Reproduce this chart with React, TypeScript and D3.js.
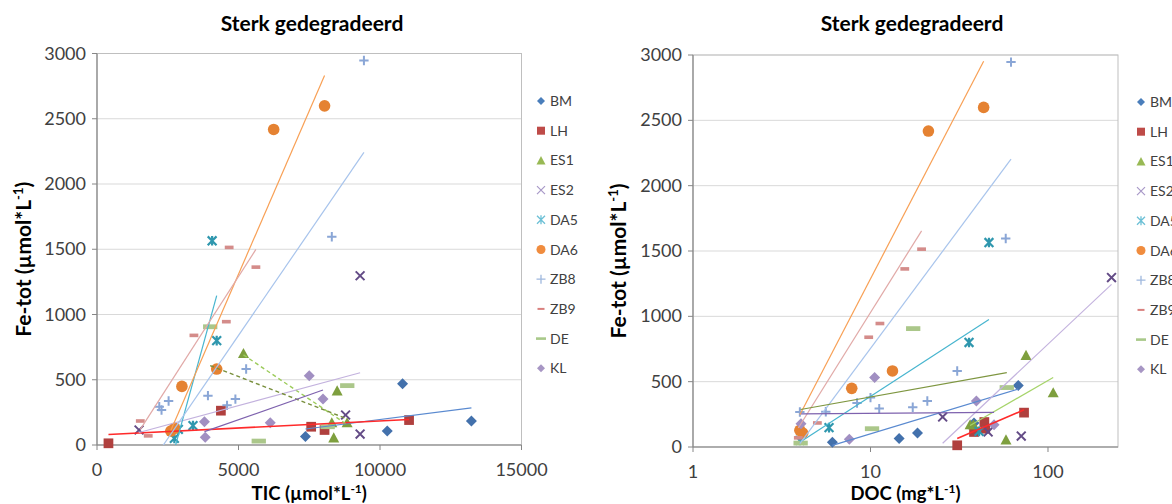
import React from "react";
import * as d3 from "d3";

// ---------- DATA ----------
const SERIES = ["BM", "LH", "ES1", "ES2", "DA5", "DA6", "ZB8", "ZB9", "DE", "KL"];

const BM_FE = [36, 66, 107, 470, 184];
const BM_TIC = [null, 7365, 10257, 10797, 13230];
const BM_DOC = [6.1, 14.5, 18.4, 68, 38.3];

const LH_FE = [13, 263, 140, 115, 191];
const LH_TIC = [405, 4378, 7568, 8041, 11027];
const LH_DOC = [30.8, 73.3, 44.3, 38.3, 43.8];

const ES1_FE = [702, 416, 171, 55, 171];
const ES1_TIC = [5176, 8486, 8297, 8365, 8838];
const ES1_DOC = [75.2, 107, 36.4, 58, 38];

const ES2_FE = [115, 230, 84, 1297];
const ES2_TIC = [1486, 8784, 9297, 9297];
const ES2_DOC = [46, 25.5, 70.7, 228];

const DA5_FE = [1565, 800, 148, 51, 120];
const DA5_TIC = [4068, 4230, 3392, 2733, 2874];
const DA5_DOC = [46.5, 35.9, 5.84, 4.0, 40.9];

const DA6_FE = [2418, 2599, 582, 449, 128, 107];
const DA6_TIC = [6243, 8041, 4230, 3000, 2743, 2608];
const DA6_DOC = [21.2, 43.4, 13.3, 7.84, 4.0, 4.15];

const ZB8_FE = [2946, 1596, 582, 378, 352, 304, 337, 294, 268, 270];
const ZB8_TIC = [9432, 8297, 5270, 3920, 4890, 4595, 2530, 2200, 2280, null];
const ZB8_DOC = [61.9, 57.8, 30.8, 10.0, 20.9, 17.3, 8.4, 11.2, 4.0, 5.6];

const ZB9_FE = [1514, 1363, 945, 840, 184, 70];
const ZB9_TIC = [4670, 5615, 4570, 3425, 1530, 1810];
const ZB9_DOC = [19.4, 15.6, 11.3, 9.77, 5.02, 3.92];

const DE_FE = [906, 30, 455, 140];
const DE_TIC = [4000, 5716, 8843, 8150];
const DE_DOC = [17.4, 4.04, 58.6, 10.2];

const KL_FE = [178, 59, 531, 352, 171];
const KL_TIC = [3797, 3824, 7500, 7986, 6122];
const KL_DOC = [4.06, 7.6, 10.55, 39.5, 49.7];

const FE_TICKS = [0, 500, 1000, 1500, 2000, 2500, 3000];
const TIC_TICKS = [0, 5000, 10000, 15000];
const DOC_TICKS = [1, 10, 100];

const TITLE = "Sterk gedegradeerd";

const FE_BY: Record<string, number[]> = {
  BM: BM_FE, LH: LH_FE, ES1: ES1_FE, ES2: ES2_FE, DA5: DA5_FE,
  DA6: DA6_FE, ZB8: ZB8_FE, ZB9: ZB9_FE, DE: DE_FE, KL: KL_FE,
};
const TIC_BY: Record<string, (number | null)[]> = {
  BM: BM_TIC, LH: LH_TIC, ES1: ES1_TIC, ES2: ES2_TIC, DA5: DA5_TIC,
  DA6: DA6_TIC, ZB8: ZB8_TIC, ZB9: ZB9_TIC, DE: DE_TIC, KL: KL_TIC,
};
const DOC_BY: Record<string, (number | null)[]> = {
  BM: BM_DOC, LH: LH_DOC, ES1: ES1_DOC, ES2: ES2_DOC, DA5: DA5_DOC,
  DA6: DA6_DOC, ZB8: ZB8_DOC, ZB9: ZB9_DOC, DE: DE_DOC, KL: KL_DOC,
};

// ---------- STYLE ----------
const MARKER_COLOR: Record<string, string> = {
  BM: "#4371AC", LH: "#B0403E", ES1: "#7E9F3E", ES2: "#634B86", DA5: "#2F97AE",
  DA6: "#E58232", ZB8: "#8AA6D6", ZB9: "#D48C8A", DE: "#ABC78A", KL: "#A18FC2",
};
const LEGEND_COLOR: Record<string, string> = {
  BM: "#4A7EBB", LH: "#BE4B48", ES1: "#98B954", ES2: "#A899C8", DA5: "#6CC0D6",
  DA6: "#F08C3E", ZB8: "#9FB8DE", ZB9: "#D9807E", DE: "#A9C98A", KL: "#A796C4",
};
type TL = { color: string; dash?: string; width?: number };
const TREND_LEFT: Record<string, TL> = {
  BM: { color: "#5A8AD0" }, LH: { color: "#FF2A2A", width: 1.6 },
  ES1: { color: "#9CCB5A", dash: "4,3", width: 1.4 }, ES2: { color: "#C3B2DE" },
  DA5: { color: "#47B5CF" }, DA6: { color: "#F8A055" }, ZB8: { color: "#A8C4EC" },
  ZB9: { color: "#E1A9A7" }, DE: { color: "#788F3C", dash: "4,3", width: 1.4 },
  KL: { color: "#7E62AE" },
};
const TREND_RIGHT: Record<string, TL> = {
  BM: { color: "#5A8AD0" }, LH: { color: "#FF2A2A", width: 1.6 },
  ES1: { color: "#A6D46A" }, ES2: { color: "#C3B2DE" },
  DA5: { color: "#47B5CF" }, DA6: { color: "#F8A055" }, ZB8: { color: "#A8C4EC" },
  ZB9: { color: "#E1A9A7" }, DE: { color: "#7E9640" },
  KL: { color: "#7E62AE" },
};

const FONT = "Lato, 'Open Sans', sans-serif";
const TXT = "#404040";

function markerPath(name: string, s: number): React.ReactNode {
  const c = MARKER_COLOR[name];
  switch (name) {
    case "BM":
    case "KL":
      return <path d={`M0,${-s}L${s},0L0,${s}L${-s},0Z`} fill={c} />;
    case "LH":
      return <rect x={-s * 0.9} y={-s * 0.9} width={s * 1.8} height={s * 1.8} fill={c} />;
    case "ES1":
      return <path d={`M0,${-s}L${s},${s * 0.85}L${-s},${s * 0.85}Z`} fill={c} />;
    case "ES2": {
      const a = s * 0.8;
      return <path d={`M${-a},${-a}L${a},${a}M${-a},${a}L${a},${-a}`} stroke={c} strokeWidth={2} fill="none" />;
    }
    case "DA5": {
      const a = s * 0.8;
      return (
        <path
          d={`M${-a},${-a}L${a},${a}M${-a},${a}L${a},${-a}M0,${-a * 1.1}L0,${a * 1.1}`}
          stroke={c} strokeWidth={2.2} fill="none"
        />
      );
    }
    case "DA6":
      return <circle r={s} fill={c} />;
    case "ZB8": {
      const a = s * 0.85;
      return <path d={`M${-a},0L${a},0M0,${-a}L0,${a}`} stroke={c} strokeWidth={2} fill="none" />;
    }
    case "ZB9":
      return <rect x={-s * 0.8} y={-1.8} width={s * 1.6} height={3.6} fill={c} />;
    case "DE":
      return <rect x={-s * 1.3} y={-2.4} width={s * 2.6} height={4.8} fill={c} />;
  }
  return null;
}

function legendMarker(name: string): React.ReactNode {
  const c = LEGEND_COLOR[name];
  const s = 4;
  switch (name) {
    case "BM":
    case "KL":
      return <path d={`M0,${-s}L${s},0L0,${s}L${-s},0Z`} fill={c} />;
    case "LH":
      return <rect x={-4} y={-4} width={8} height={8} fill={c} />;
    case "ES1":
      return <path d={`M0,${-4.5}L4.5,4L-4.5,4Z`} fill={c} />;
    case "ES2":
      return <path d="M-4,-4L4,4M-4,4L4,-4" stroke={c} strokeWidth={1.2} fill="none" />;
    case "DA5":
      return <path d="M-4,-4L4,4M-4,4L4,-4M0,-4.5L0,4.5" stroke={c} strokeWidth={1.3} fill="none" />;
    case "DA6":
      return <circle r={4.5} fill={c} />;
    case "ZB8":
      return <path d="M-4.5,0L4.5,0M0,-4.5L0,4.5" stroke={c} strokeWidth={1.3} fill="none" />;
    case "ZB9":
      return <rect x={-3.5} y={-1} width={7} height={2} fill={c} />;
    case "DE":
      return <rect x={-5} y={-1.3} width={10} height={2.6} fill={c} />;
  }
  return null;
}

function fit(xs: number[], ys: number[]) {
  const mx = d3.mean(xs)!;
  const my = d3.mean(ys)!;
  let sxy = 0, sxx = 0;
  xs.forEach((x, i) => {
    sxy += (x - mx) * (ys[i] - my);
    sxx += (x - mx) * (x - mx);
  });
  const b = sxy / sxx;
  return { b, a: my - b * mx };
}

type PanelProps = {
  id: string;
  xScale: any;
  yScale: d3.ScaleLinear<number, number>;
  xTicks: number[];
  xBy: Record<string, (number | null)[]>;
  trend: Record<string, TL>;
  xLabel: string;
  titleX: number;
  yLabelX: number;
  legendX: number;
  legendY0: number;
};

function Panel(p: PanelProps) {
  const [x0, x1] = p.xScale.range();
  const [yb, yt] = p.yScale.range();
  return (
    <g>
      <defs>
        <clipPath id={`clip-${p.id}`}>
          <rect x={x0} y={yt} width={x1 - x0} height={yb - yt} />
        </clipPath>
      </defs>
      <text x={p.titleX} y={31} textAnchor="middle" fontFamily={FONT} fontWeight="bold" fontSize={21} fill="#000">
        {TITLE}
      </text>
      {FE_TICKS.map((t) => (
        <line key={t} x1={x0} x2={x1} y1={p.yScale(t)} y2={p.yScale(t)} stroke="#D9D9D9" strokeWidth={1} />
      ))}
      <rect x={x0} y={yt} width={x1 - x0} height={yb - yt} fill="none" stroke="#BFBFBF" strokeWidth={1} />
      <line x1={x0} x2={x0} y1={yt} y2={yb} stroke="#868686" strokeWidth={1.2} />
      <line x1={x0} x2={x1} y1={yb} y2={yb} stroke="#868686" strokeWidth={1.2} />
      {FE_TICKS.map((t) => (
        <g key={t}>
          <line x1={x0 - 5} x2={x0} y1={p.yScale(t)} y2={p.yScale(t)} stroke="#868686" />
          <text x={x0 - 11} y={p.yScale(t) + 6} textAnchor="end" fontFamily={FONT} fontSize={18} fill={TXT}>
            {t}
          </text>
        </g>
      ))}
      {p.xTicks.map((t) => (
        <g key={t}>
          <line x1={p.xScale(t)} x2={p.xScale(t)} y1={yb} y2={yb + 5} stroke="#868686" />
          <text x={p.xScale(t)} y={yb + 31} textAnchor="middle" fontFamily={FONT} fontSize={18} fill={TXT}>
            {t}
          </text>
        </g>
      ))}
      {SERIES.map((name) => {
        const fe = FE_BY[name];
        const xs = p.xBy[name];
        const size = name === "DA6" ? 5.8 : name === "LH" ? 5.4 : 5.5;
        return (
          <g key={name}>
            {fe.map((v, i) =>
              xs[i] == null ? null : (
                <g key={i} transform={`translate(${p.xScale(xs[i])},${p.yScale(v)})`}>
                  {markerPath(name, size)}
                </g>
              )
            )}
          </g>
        );
      })}
      <g clipPath={`url(#clip-${p.id})`}>
        {SERIES.map((name) => {
          const fe = FE_BY[name];
          const xsRaw = p.xBy[name];
          const xs: number[] = [];
          const ys: number[] = [];
          xsRaw.forEach((x, i) => {
            if (x != null) {
              xs.push(x);
              ys.push(fe[i]);
            }
          });
          const { a, b } = fit(xs, ys);
          const lo = d3.min(xs)!;
          const hi = d3.max(xs)!;
          const st = p.trend[name];
          return (
            <line
              key={name}
              x1={p.xScale(lo)} y1={p.yScale(a + b * lo)}
              x2={p.xScale(hi)} y2={p.yScale(a + b * hi)}
              stroke={st.color} strokeWidth={st.width ?? 1.2} strokeDasharray={st.dash}
            />
          );
        })}
      </g>
      <text x={(x0 + x1) / 2} y={500} textAnchor="middle" fontFamily={FONT} fontWeight="bold" fontSize={18.5} fill="#000">
        {p.xLabel}
        <tspan dy={-7} fontSize={12}>-1</tspan>
        <tspan dy={7}>)</tspan>
      </text>
      <text
        transform={`translate(${p.yLabelX},${(yt + yb) / 2 + 10}) rotate(-90)`}
        textAnchor="middle" fontFamily={FONT} fontWeight="bold" fontSize={21} fill="#000"
      >
        Fe-tot (µmol*L<tspan dy={-8} fontSize={13}>-1</tspan>
        <tspan dy={8}>)</tspan>
      </text>
      {SERIES.map((name, i) => {
        const y = p.legendY0 + i * 29.7;
        return (
          <g key={name}>
            <g transform={`translate(${p.legendX},${y})`}>{legendMarker(name)}</g>
            <text x={p.legendX + 9} y={y + 5} fontFamily={FONT} fontSize={14} fill={TXT}>
              {name}
            </text>
          </g>
        );
      })}
    </g>
  );
}

export default function App() {
  const yLeft = d3.scaleLinear().domain([0, 3000]).range([445, 53.5]);
  const xLeft = d3.scaleLinear().domain([0, 15000]).range([97, 521.5]);
  const yRight = d3.scaleLinear().domain([0, 3000]).range([447, 55]);
  const xRight = d3.scaleLog().domain([1, 248]).range([693, 1118]);
  return (
    <svg width={1172} height={504} style={{ position: "absolute", left: 0, top: 0, background: "#fff" }}>
      <rect width={1172} height={504} fill="#fff" />
      <Panel
        id="l" xScale={xLeft} yScale={yLeft} xTicks={TIC_TICKS} xBy={TIC_BY} trend={TREND_LEFT}
        xLabel="TIC (µmol*L" titleX={312} yLabelX={31} legendX={541} legendY0={101}
      />
      <Panel
        id="r" xScale={xRight} yScale={yRight} xTicks={DOC_TICKS} xBy={DOC_BY} trend={TREND_RIGHT}
        xLabel="DOC (mg*L" titleX={912} yLabelX={626} legendX={1141} legendY0={102}
      />
    </svg>
  );
}
